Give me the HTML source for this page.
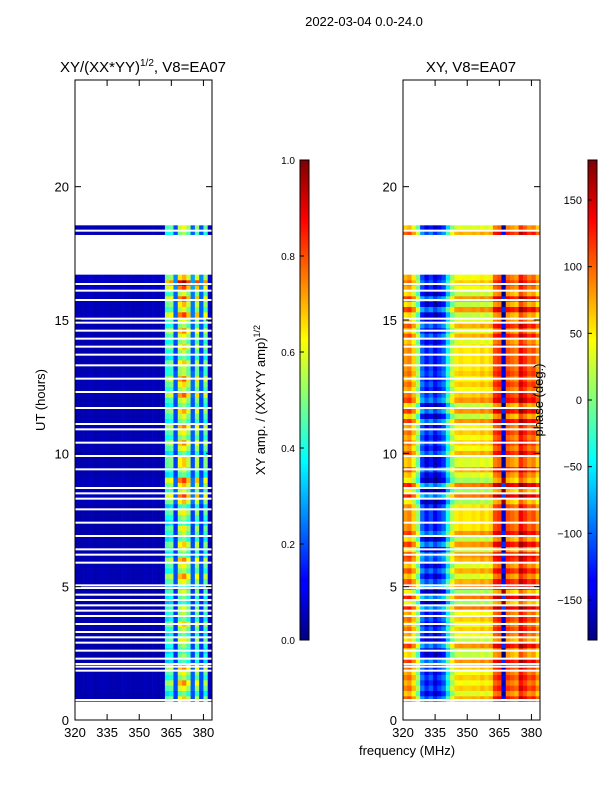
<!DOCTYPE html>
<html><head><meta charset="utf-8">
<style>
body{margin:0;background:#fff;width:600px;height:800px;overflow:hidden;font-family:"Liberation Sans",sans-serif}
svg text{font-family:"Liberation Sans",sans-serif;fill:#000}
</style></head>
<body>
<svg id="fig" width="600" height="800" xmlns="http://www.w3.org/2000/svg">
<defs>
<linearGradient id="jet" x1="0" y1="1" x2="0" y2="0">
<stop offset="0" stop-color="#00007f"/><stop offset="0.11" stop-color="#0000ff"/>
<stop offset="0.125" stop-color="#0000ff"/><stop offset="0.34" stop-color="#00dcff"/>
<stop offset="0.375" stop-color="#0ff"/><stop offset="0.5" stop-color="#7fff7f"/>
<stop offset="0.625" stop-color="#ff0"/><stop offset="0.875" stop-color="#f00"/>
<stop offset="1" stop-color="#7f0000"/></linearGradient>
</defs>
<text x="364" y="26" font-size="13" text-anchor="middle">2022-03-04 0.0-24.0</text>
<text x="143" y="72" font-size="15" text-anchor="middle">XY/(XX*YY)<tspan dy="-6" font-size="10">1/2</tspan><tspan dy="6">, V8=EA07</tspan></text>
<text x="471" y="72" font-size="15" text-anchor="middle">XY, V8=EA07</text>
<text x="407" y="755" font-size="13" text-anchor="middle">frequency (MHz)</text>
<text transform="translate(45,400) rotate(-90)" font-size="13" text-anchor="middle">UT (hours)</text>
<text transform="translate(265,400) rotate(-90)" font-size="13" text-anchor="middle">XY amp. / (XX*YY amp)<tspan dy="-5" font-size="9">1/2</tspan></text>
<g id="left"></g>
<g id="right"></g>
<g id="axes"></g>
<text transform="translate(543,400) rotate(-90)" font-size="13" text-anchor="middle">phase (deg.)</text>
<rect x="300" y="160" width="9" height="480" fill="url(#jet)" stroke="#000"/>
<rect x="588" y="160" width="9" height="480" fill="url(#jet)" stroke="#000"/>
<g id="cb"></g>
</svg>
<script>
// ---- data ----
const freqBins = [320,322,324,326,328,330,332,334,336,338,340,342,344,346,348,350,352,354,356,358,360,362,364,366,368,370,372,374,376,378,380,382];
const ampProfile = [0.05,0.05,0.05,0.06,0.05,0.05,0.06,0.05,0.05,0.05,0.05,0.06,0.05,0.05,0.05,0.05,0.06,0.05,0.06,0.05,0.06,0.42,0.45,0.2,0.55,0.6,0.5,0.22,0.5,0.2,0.45,0.06];
const phaseProfile = [80,90,60,10,-100,-130,-110,-140,-120,-100,-40,20,50,55,50,50,55,50,60,50,60,110,120,-150,110,100,90,140,120,100,110,80];
const timeBlocks = [[0.7,16.7],[18.2,18.55]];
const gapHours = [18.35,16.35,16.1,15.75,15.05,14.9,14.6,14.3,14.0,13.7,13.3,12.8,12.3,11.7,11.1,10.9,10.4,9.9,9.4,8.7,8.5,8.3,7.9,7.4,6.9,6.4,6.2,5.9,5.05,4.95,4.7,4.5,4.3,4.1,3.9,3.6,3.3,3.1,2.9,2.6,2.3,2.1,2.0,1.85,0.75];
const hourAmpScale = [0.9,1.0,0.85,0.9,0.8,1.0,0.9,0.85,1.1,0.9,1.0,0.95,1.05,0.9,1.0,1.1,1.3,1.0,1.0];
const hourPhaseShift = [20,10,-30,10,40,-20,30,0,-40,20,10,30,-10,0,20,-30,10,0,20];
const ampTicks = [0,0.2,0.4,0.6,0.8,1.0];
const phaseTicks = [-150,-100,-50,0,50,100,150];
const xTicks = [320,335,350,365,380];
const yTicks = [0,5,10,15,20];
// ---- scales ----
const Y=h=>720-h*640/24;
const X=(x0,f)=>x0+(f-320)*137/64;
function jet(v){v=Math.max(0,Math.min(1,v));
 const r=Math.max(0,Math.min(1,1.5-Math.abs(4*v-3))),g=Math.max(0,Math.min(1,1.5-Math.abs(4*v-2))),b=Math.max(0,Math.min(1,1.5-Math.abs(4*v-1)));
 return `rgb(${r*255|0},${g*255|0},${b*255|0})`;}
const NS='http://www.w3.org/2000/svg';
function mk(p,t,a){const e=document.createElementNS(NS,t);for(const k in a)e.setAttribute(k,a[k]);p.appendChild(e);return e;}
const L=document.getElementById('left'),R=document.getElementById('right');
const dt=0.2;
timeBlocks.forEach(([t0,t1])=>{
 for(let t=t0;t<t1-1e-6;t+=dt){
  const te=Math.min(t+dt,t1);const hi=Math.min(hourAmpScale.length-1,Math.floor(t));
  const ri=Math.round(t/dt);
  freqBins.forEach((f,c)=>{
   const a=ampProfile[c]*hourAmpScale[hi]*(ampProfile[c]>0.3?(ri%3===0?1.25:ri%3===1?0.9:1.05):1);
   let p=phaseProfile[c]+hourPhaseShift[hi]*(ri%2?1:-1);
   if(p>180)p-=360;if(p<-180)p+=360;
   const r1=mk(L,'rect',{x:X(75,f),y:Y(te),width:137/32+0.3,height:Y(t)-Y(te)+0.3,fill:jet(a)});
   
   
   const r2=mk(R,'rect',{x:X(403,f),y:Y(te),width:137/32+0.3,height:Y(t)-Y(te)+0.3,fill:jet((p+180)/360)});
   
   
  });
 }
});
gapHours.forEach(h=>{[75,403].forEach(x0=>{
 const g=mk(x0===75?L:R,'rect',{x:x0,y:Y(h)-1,width:137,height:2,fill:'#fff'});
 
 
});});
const A=document.getElementById('axes');
[75,403].forEach(x0=>{
 const fr=mk(A,'rect',{x:x0,y:80,width:137,height:640,fill:'none',stroke:'#000','stroke-width':1});
 
 
 xTicks.forEach(f=>{const x=X(x0,f);
  mk(A,'line',{x1:x,x2:x,y1:720,y2:714,stroke:'#000'});mk(A,'line',{x1:x,x2:x,y1:80,y2:86,stroke:'#000'});
  const t=mk(A,'text',{x:x,y:737,'font-size':13,'text-anchor':'middle'});t.textContent=f;
  
  });
 yTicks.forEach(h=>{const y=Y(h);
  mk(A,'line',{x1:x0,x2:x0+6,y1:y,y2:y,stroke:'#000'});mk(A,'line',{x1:x0+137,x2:x0+131,y1:y,y2:y,stroke:'#000'});
  const t=mk(A,'text',{x:x0-6,y:y+5,'font-size':13,'text-anchor':'end'});t.textContent=h;
  
  });
});
const C=document.getElementById('cb');
ampTicks.forEach(v=>{const y=640-v*480;
 mk(C,'line',{x1:300,x2:304,y1:y,y2:y,stroke:'#000'});
 const t=mk(C,'text',{x:295,y:y+4,'font-size':10,'text-anchor':'end'});t.textContent=v.toFixed(1);
 
 });
phaseTicks.forEach(v=>{const y=640-(v+180)/360*480;
 mk(C,'line',{x1:588,x2:592,y1:y,y2:y,stroke:'#000'});
 const t=mk(C,'text',{x:582,y:y+4,'font-size':11,'text-anchor':'end'});t.textContent=v<0?'\u2212'+(-v):v;
 
 });
</script>
</body></html>
